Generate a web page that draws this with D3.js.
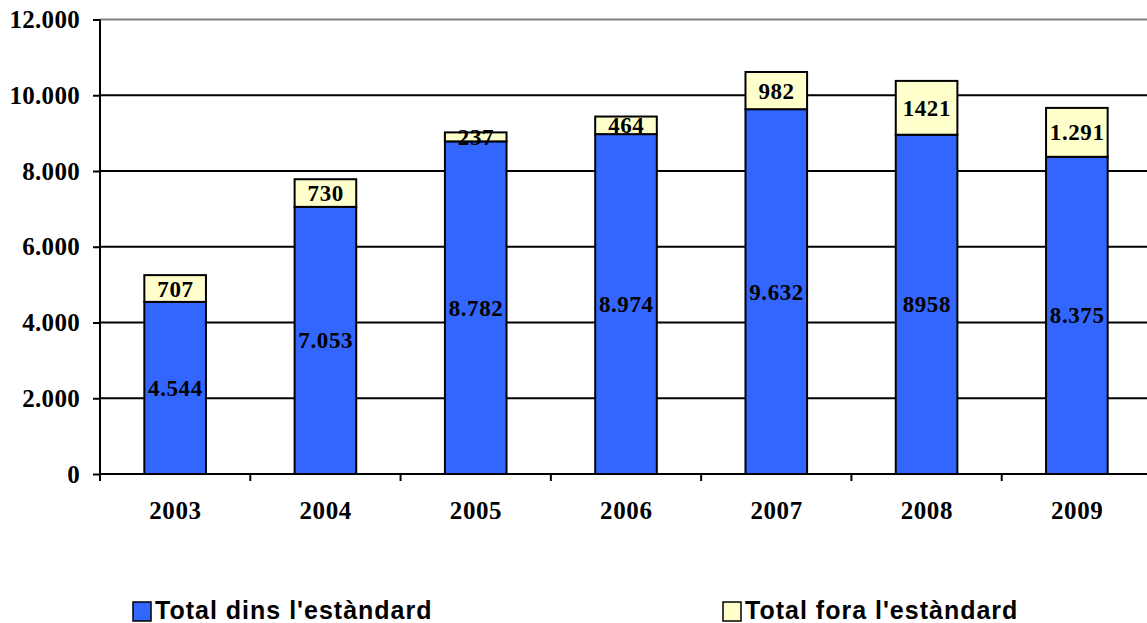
<!DOCTYPE html>
<html>
<head>
<meta charset="utf-8">
<script src="https://cdn.jsdelivr.net/npm/d3@7"></script>
<style>
  body { margin: 0; background: #fff; }
  svg { display: block; }
</style>
</head>
<body>
<svg width="1147" height="623"></svg>
<script>
var years = ["2003", "2004", "2005", "2006", "2007", "2008", "2009"];
var dins = [4544, 7053, 8782, 8974, 9632, 8958, 8375];
var fora = [707, 730, 237, 464, 982, 1421, 1291];
var dinsLabels = ["4.544", "7.053", "8.782", "8.974", "9.632", "8958", "8.375"];
var foraLabels = ["707", "730", "237", "464", "982", "1421", "1.291"];
var yTicks = [0, 2000, 4000, 6000, 8000, 10000, 12000];
var seriesNames = ["Total dins l'estàndard", "Total fora l'estàndard"];
var seriesColors = ["#3366ff", "#ffffcc"];

var svg = d3.select("svg");
var serif = "'Liberation Serif', 'Times New Roman', serif";
var sans = "'Liberation Sans', Arial, sans-serif";

var x = d3.scaleBand().domain(years).range([100, 1152]).paddingInner(0.59).paddingOuter(0.295);
var band = d3.scaleBand().domain(years).range([100, 1152]);
var y = d3.scaleLinear().domain([0, 12000]).range([474, 19.5]);

var fmt = function(d) { return d == 0 ? "0" : d3.format(",")(d).replace(/,/g, "."); };

// gridlines
svg.append("g").selectAll("line")
  .data(yTicks.slice(1))
  .enter().append("line")
  .attr("x1", 100).attr("x2", 1147)
  .attr("y1", function(d) { return y(d); })
  .attr("y2", function(d) { return y(d); })
  .attr("stroke", function(d) { return d == 12000 ? "#808080" : "#000"; })
  .attr("stroke-width", 2);

// y axis
var yAxis = svg.append("g")
  .attr("transform", "translate(100,0)")
  .call(d3.axisLeft(y).tickValues(yTicks).tickFormat(fmt).tickSize(7).tickPadding(13));
yAxis.select(".domain").attr("stroke-width", 2).attr("d", "M0," + y(0) + "V" + y(12000));
yAxis.selectAll(".tick line").attr("stroke-width", 2);
yAxis.selectAll("text")
  .attr("font-family", serif).attr("font-weight", "bold").attr("font-size", 25)
  .attr("letter-spacing", 0.3).attr("fill", "#000");

// x axis with ticks at category boundaries
var xAxis = svg.append("g").attr("transform", "translate(0," + y(0) + ")");
xAxis.append("line").attr("x1", 100).attr("x2", 1147).attr("stroke", "#000").attr("stroke-width", 2);
xAxis.selectAll(".bt")
  .data(years)
  .enter().append("line")
  .attr("class", "bt")
  .attr("x1", function(d) { return band(d); })
  .attr("x2", function(d) { return band(d); })
  .attr("y1", 0).attr("y2", 7)
  .attr("stroke", "#000").attr("stroke-width", 2);
xAxis.selectAll("text")
  .data(years)
  .enter().append("text")
  .attr("x", function(d) { return band(d) + band.bandwidth() / 2 + 0.3; })
  .attr("y", 45)
  .attr("text-anchor", "middle")
  .attr("font-family", serif).attr("font-weight", "bold").attr("font-size", 25)
  .attr("letter-spacing", 0.6)
  .text(function(d) { return d; });

// bars
var bars = svg.append("g").selectAll("g")
  .data(years)
  .enter().append("g");

bars.append("rect")
  .attr("x", function(d) { return x(d); })
  .attr("width", x.bandwidth())
  .attr("y", function(d, i) { return y(dins[i]); })
  .attr("height", function(d, i) { return y(0) - y(dins[i]); })
  .attr("fill", seriesColors[0])
  .attr("stroke", "#000").attr("stroke-width", 2);

bars.append("rect")
  .attr("x", function(d) { return x(d); })
  .attr("width", x.bandwidth())
  .attr("y", function(d, i) { return y(dins[i] + fora[i]); })
  .attr("height", function(d, i) { return y(dins[i]) - y(dins[i] + fora[i]); })
  .attr("fill", seriesColors[1])
  .attr("stroke", "#000").attr("stroke-width", 2);

bars.append("text")
  .attr("x", function(d) { return x(d) + x.bandwidth() / 2 + 0.3; })
  .attr("y", function(d, i) { return y(dins[i] / 2); })
  .attr("dy", "0.35em")
  .attr("text-anchor", "middle")
  .attr("font-family", serif).attr("font-weight", "bold").attr("font-size", 23)
  .attr("letter-spacing", 0.6)
  .text(function(d, i) { return dinsLabels[i]; });

bars.append("text")
  .attr("x", function(d) { return x(d) + x.bandwidth() / 2 + 0.3; })
  .attr("y", function(d, i) { return y(dins[i] + fora[i] / 2); })
  .attr("dy", "0.35em")
  .attr("text-anchor", "middle")
  .attr("font-family", serif).attr("font-weight", "bold").attr("font-size", 23)
  .attr("letter-spacing", 0.6)
  .text(function(d, i) { return foraLabels[i]; });

// legend
var legendX = [133, 723];
var legend = svg.append("g").selectAll("g")
  .data(seriesNames)
  .enter().append("g")
  .attr("transform", function(d, i) { return "translate(" + legendX[i] + ",602)"; });
legend.append("rect")
  .attr("width", 18).attr("height", 19)
  .attr("fill", function(d, i) { return seriesColors[i]; })
  .attr("stroke", "#000").attr("stroke-width", 1.5);
legend.append("text")
  .attr("x", 22).attr("y", 17)
  .attr("font-family", sans).attr("font-weight", "bold").attr("font-size", 25)
  .attr("letter-spacing", 1)
  .text(function(d) { return d; });
</script>
</body>
</html>
